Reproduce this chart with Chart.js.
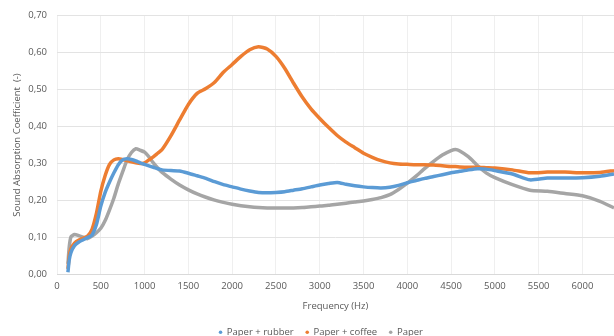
<!DOCTYPE html>
<html>
<head>
<meta charset="utf-8">
<script src="https://cdn.jsdelivr.net/npm/chart.js@4/dist/chart.umd.min.js"></script>
<style>
  html, body { margin: 0; padding: 0; background: #fff; }
  #wrap { width: 614px; height: 336px; }
</style>
</head>
<body>
<div id="wrap"><canvas id="myChart" width="614" height="336"></canvas></div>
<script>
var frequency = [125,140,160,200,250,300,350,400,450,500,550,600,650,700,750,800,850,900,950,1000,
  1050,1100,1150,1200,1300,1400,1500,1600,1700,1800,1900,2000,2100,2200,2300,2400,2500,2600,2700,2800,
  2900,3000,3100,3200,3300,3400,3500,3600,3700,3800,3900,4000,4100,4200,4300,4400,4500,4550,4600,4700,
  4800,4900,5000,5200,5400,5600,5800,6000,6200,6360];

var paperRubber = [0.006,0.04,0.06,0.078,0.088,0.094,0.1,0.107,0.135,0.185,0.222,0.25,0.275,0.297,0.31,0.313,0.311,0.307,0.302,0.298,
  0.294,0.29,0.286,0.283,0.281,0.28,0.274,0.267,0.26,0.251,0.243,0.237,0.231,0.226,0.222,0.221,0.222,0.224,0.228,0.232,
  0.237,0.242,0.246,0.249,0.244,0.24,0.237,0.235,0.234,0.236,0.241,0.248,0.254,0.26,0.265,0.27,0.275,0.277,0.279,0.283,
  0.286,0.285,0.281,0.272,0.256,0.261,0.261,0.262,0.266,0.272];

var paperCoffee = [0.015,0.05,0.07,0.085,0.093,0.098,0.104,0.122,0.165,0.225,0.268,0.298,0.31,0.313,0.311,0.308,0.305,0.302,0.3,0.302,
  0.31,0.318,0.328,0.338,0.375,0.418,0.46,0.49,0.503,0.52,0.547,0.568,0.59,0.608,0.616,0.61,0.59,0.558,0.518,0.48,
  0.448,0.422,0.398,0.376,0.358,0.343,0.328,0.317,0.308,0.302,0.299,0.298,0.297,0.297,0.296,0.294,0.292,0.292,0.291,0.29,
  0.29,0.289,0.288,0.283,0.275,0.277,0.277,0.275,0.276,0.281];

var paper = [0.029,0.075,0.102,0.108,0.105,0.101,0.097,0.104,0.113,0.125,0.146,0.175,0.207,0.245,0.278,0.31,0.33,0.34,0.336,0.331,
  0.318,0.302,0.288,0.276,0.258,0.242,0.229,0.218,0.209,0.201,0.195,0.19,0.186,0.183,0.181,0.18,0.18,0.18,0.18,0.181,
  0.183,0.185,0.187,0.19,0.193,0.196,0.199,0.203,0.208,0.216,0.23,0.247,0.266,0.287,0.306,0.323,0.335,0.338,0.334,0.318,
  0.295,0.275,0.262,0.243,0.228,0.225,0.219,0.213,0.198,0.18];

// axis ticks
var xTicks = [0,500,1000,1500,2000,2500,3000,3500,4000,4500,5000,5500,6000];
var yTicks = [0,0.1,0.2,0.3,0.4,0.5,0.6,0.7];

var seriesNames = ['Paper + rubber', 'Paper + coffee', 'Paper'];
var seriesColors = ['#5B9BD5', '#ED7D31', '#A5A5A5'];

function toPoints(values) {
  var pts = [];
  for (let i = 0; i < frequency.length; i++) {
    pts.push({ x: frequency[i], y: values[i] });
  }
  return pts;
}

var allSeries = [paperRubber, paperCoffee, paper];
var datasets = [];
for (let i = 0; i < allSeries.length; i++) {
  datasets.push({
    label: seriesNames[i],
    data: toPoints(allSeries[i]),
    borderColor: seriesColors[i],
    backgroundColor: seriesColors[i],
    borderWidth: 3.5,
    pointRadius: 0,
    tension: 0.2
  });
}

var font = { family: '"Open Sans", sans-serif', size: 9.5 };
var textColor = '#595959';

// the legend sits a bit right of the canvas centre in the original
var shiftLegend = {
  id: 'shiftLegend',
  afterLayout: function (chart) {
    chart.legend.left += 14;
    chart.legend.right += 14;
  }
};

var myChart = new Chart(document.getElementById('myChart').getContext('2d'), {
  type: 'line',
  data: { datasets: datasets },
  plugins: [shiftLegend],
  options: {
    responsive: false,
    animation: false,
    layout: { padding: { top: 10, right: 0, bottom: -11, left: 0 } },
    scales: {
      x: {
        type: 'linear',
        min: 0,
        max: 6360,
        afterBuildTicks: function (scale) {
          scale.ticks = xTicks.map(function (v) { return { value: v }; });
        },
        afterFit: function (scale) { scale.height = 41; },
        ticks: {
          color: textColor, font: font, padding: 6, maxRotation: 0, autoSkip: false,
          callback: function (v) { return String(v); }
        },
        grid: { color: '#efefef', drawTicks: false },
        border: { color: '#d9d9d9' },
        title: { display: true, text: 'Frequency (Hz)', color: textColor, font: font, padding: { top: 0, bottom: 4 } }
      },
      y: {
        min: 0,
        max: 0.7,
        afterBuildTicks: function (scale) {
          scale.ticks = yTicks.map(function (v) { return { value: v }; });
        },
        afterFit: function (scale) { scale.width = 57; },
        ticks: {
          color: textColor,
          font: font,
          padding: 10,
          callback: function (v) { return v.toFixed(2).replace('.', ','); }
        },
        grid: { color: '#e3e3e3', drawTicks: false },
        border: { display: false },
        title: { display: true, text: 'Sound Absorption Coefficient  (-)', color: textColor, font: font, padding: { top: 12, bottom: 0 } }
      }
    },
    plugins: {
      legend: {
        position: 'bottom',
        labels: {
          usePointStyle: true,
          pointStyle: 'circle',
          boxWidth: 3,
          boxHeight: 2.5,
          color: textColor,
          font: font,
          padding: 12,
          generateLabels: function (chart) {
            var items = Chart.defaults.plugins.legend.labels.generateLabels(chart);
            items.forEach(function (it) { it.lineWidth = 0; });
            return items;
          }
        }
      },
      tooltip: { enabled: false }
    }
  }
});
</script>
</body>
</html>
